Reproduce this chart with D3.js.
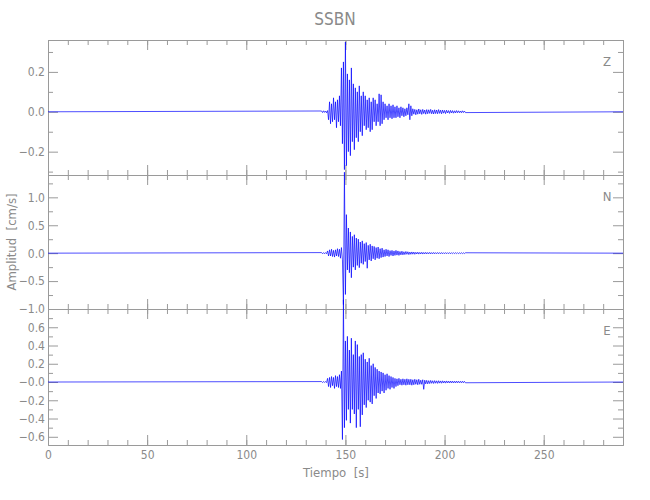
<!DOCTYPE html>
<html><head><meta charset="utf-8">
<script src="https://cdn.jsdelivr.net/npm/d3@7"></script>
<style>
body{margin:0;background:#fff}
text{font-family:"DejaVu Sans Condensed","DejaVu Sans",sans-serif;font-stretch:condensed;fill:#8a8a8a}
</style></head><body>
<svg id="chart" width="650" height="500"></svg>
<script>
// ---- data ----
const title = "SSBN";
const timeDomain = [0, 290];
const timeStart = 138, timeStep = 0.5;       // sampling grid of the arrays below (s)
const xMajorTicks = [0, 50, 100, 150, 200, 250];
const xMinorTicks = d3.range(0, 291, 10);

const componentNames = ["Z", "N", "E"];

const zValues = [
 0.004,-0.004, 0.005,-0.003, 0.004,-0.005, 0.006,-0.04, 0.05,-0.06, 0.04,-0.05, 0.07,-0.04, 0.05,-0.08,
 0.06,-0.05, 0.08,-0.07, 0.22,-0.16, 0.25,-0.29, 0.35,-0.27, 0.19,-0.2, 0.16,-0.22, 0.22,-0.15,
 0.14,-0.19, 0.12,-0.13, 0.1,-0.15, 0.13,-0.1, 0.08,-0.12, 0.1,-0.07, 0.08,-0.09, 0.06,-0.08,
 0.07,-0.1, 0.05,-0.09, 0.07,-0.05, 0.06,-0.07, 0.04,-0.05, 0.09,-0.07, 0.085,-0.06, 0.05,-0.04,
 0.04,-0.03, 0.03,-0.04, 0.04,-0.03, 0.03,-0.035, 0.035,-0.03, 0.025,-0.03, 0.03,-0.025, 0.02,-0.03,
 0.025,-0.02, 0.02,-0.025, 0.015,-0.02, 0.02,-0.015, 0.04,-0.04, 0.03,-0.02, 0.015,-0.012, 0.012,-0.015,
 0.01,-0.012, 0.014,-0.01, 0.01,-0.013, 0.012,-0.009, 0.009,-0.012, 0.011,-0.01, 0.01,-0.008, 0.012,-0.01,
 0.008,-0.011, 0.01,-0.009, 0.009,-0.01, 0.011,-0.008, 0.008,-0.01, 0.009,-0.007, 0.007,-0.009, 0.008,-0.006,
 0.006,-0.008, 0.007,-0.006, 0.006,-0.007, 0.005,-0.006, 0.006,-0.005, 0.005,-0.005, 0.004,-0.005, 0.005,-0.004,
 0.004,-0.004
];
const nValues = [
 0.01,-0.01, 0.01,-0.01, 0.01,-0.01, 0.04,-0.05, 0.06,-0.05, 0.07,-0.06, 0.05,-0.07, 0.06,-0.05,
 0.08,-0.06, 0.07,-0.09, 0.1,-0.12, -0.92,1.45, -0.74,0.69, -0.3,0.45, -0.35,0.38, -0.44,0.3,
 -0.25,0.33, -0.3,0.27, -0.22,0.25, -0.26,0.2, -0.18,0.22, -0.2,0.17, -0.15,0.19, -0.27,0.14,
 -0.12,0.16, -0.14,0.13, -0.1,0.12, -0.12,0.1, -0.09,0.11, -0.1,0.08, -0.08,0.09, -0.07,0.06,
 -0.06,0.07, -0.05,0.06, -0.06,0.045, -0.04,0.05, -0.05,0.04, -0.04,0.05, -0.035,0.04, -0.04,0.03,
 -0.03,0.035, -0.03,0.025, -0.025,0.03, -0.02,0.025, -0.025,0.02, -0.02,0.022, -0.018,0.02, -0.02,0.016,
 -0.015,0.018, -0.017,0.014, -0.014,0.016, -0.016,0.013, -0.013,0.015, -0.014,0.012, -0.012,0.014, -0.013,0.011,
 -0.011,0.013, -0.012,0.01, -0.01,0.012, -0.011,0.01, -0.01,0.011, -0.011,0.009, -0.009,0.01, -0.01,0.009,
 -0.009,0.01, -0.01,0.008, -0.008,0.009, -0.009,0.008, -0.008,0.009, -0.009,0.007, -0.007,0.008, -0.008,0.007,
 -0.007,0.007
];
const eValues = [
 0.005,-0.006, 0.006,-0.005, 0.005,-0.006, 0.04,-0.05, 0.05,-0.06, 0.06,-0.04, 0.05,-0.07, 0.07,-0.05,
 0.06,-0.06, 0.08,-0.07, 0.12,-0.63, 0.9,-0.5, 0.45,-0.42, 0.5,-0.3, 0.35,-0.45, 0.48,-0.3,
 0.3,-0.35, 0.45,-0.5, 0.41,-0.3, 0.28,-0.49, 0.3,-0.36, 0.32,-0.25, 0.25,-0.28, 0.22,-0.2,
 0.26,-0.22, 0.18,-0.24, 0.2,-0.15, 0.16,-0.18, 0.14,-0.12, 0.12,-0.13, 0.11,-0.1, 0.1,-0.12,
 0.08,-0.09, 0.09,-0.07, 0.07,-0.08, 0.06,-0.06, 0.05,-0.07, 0.04,-0.05, 0.035,-0.04, 0.04,-0.03,
 0.03,-0.035, 0.035,-0.03, 0.03,-0.035, 0.035,-0.03, 0.03,-0.03, 0.03,-0.035, 0.025,-0.03, 0.03,-0.025,
 0.025,-0.03, 0.03,-0.025, 0.02,-0.025, 0.025,-0.08, 0.02,-0.02, 0.018,-0.02, 0.015,-0.017, 0.017,-0.014,
 0.014,-0.016, 0.015,-0.013, 0.013,-0.015, 0.014,-0.012, 0.012,-0.013, 0.013,-0.011, 0.011,-0.012, 0.012,-0.01,
 0.01,-0.011, 0.011,-0.01, 0.01,-0.01, 0.009,-0.01, 0.01,-0.009, 0.009,-0.009, 0.008,-0.009, 0.009,-0.008,
 0.008,-0.008
];
const seriesValues = [zValues, nValues, eValues];

const yDomains = [[-0.317, 0.36], [-1.0, 1.40], [-0.69, 0.80]];
const yMajorTicks = [[-0.2, 0, 0.2], [-1.0, -0.5, 0, 0.5, 1.0], [-0.6, -0.4, -0.2, 0, 0.2, 0.4, 0.6]];
const yMajorLabels = [["\u22120.2", "0.0", "0.2"],
                      ["\u22121.0", "\u22120.5", "0.0", "0.5", "1.0"],
                      ["\u22120.6", "\u22120.4", "\u22120.2", "\u22120.0", "0.2", "0.4", "0.6"]];
const yMinorTicks = [[-0.3, -0.1, 0.1, 0.3], [-0.75, -0.25, 0.25, 0.75, 1.25], [-0.5, -0.3, -0.1, 0.1, 0.3, 0.5, 0.7]];
const xLabel = "Tiempo  [s]";
const yLabel = "Amplitud  [cm/s]";

// ---- layout ----
const left = 48, right = 623;
const panelBounds = [[40, 175], [175, 309], [309, 445]];
const axisColor = "#9a9a9a";
const textColor = "#8a8a8a";
const traceColor = "#0000ff";

const svg = d3.select("#chart");
const x = d3.scaleLinear().domain(timeDomain).range([left, right]);

svg.append("text").attr("x", 335).attr("y", 25).attr("text-anchor", "middle")
  .style("font-size", "17px").text(title);

function styleAxis(g) {
  g.selectAll("path.domain").attr("stroke", axisColor);
  g.selectAll(".tick line").attr("stroke", axisColor);
  g.selectAll(".tick text").style("font-size", "12px").attr("fill", textColor)
    .style("font-family", "'DejaVu Sans Condensed','DejaVu Sans',sans-serif");
}

panelBounds.forEach(([top, bottom], i) => {
  const y = d3.scaleLinear().domain(yDomains[i]).range([bottom, top]);
  const g = svg.append("g");
  const isLast = i === panelBounds.length - 1;

  // x axes (top & bottom), ticks pointing inward
  g.append("g").attr("transform", `translate(0,${top})`)
    .call(d3.axisTop(x).tickValues(xMinorTicks).tickSize(-5).tickSizeOuter(0).tickFormat(""))
    .call(styleAxis);
  g.append("g").attr("transform", `translate(0,${top})`)
    .call(d3.axisTop(x).tickValues(xMajorTicks).tickSize(-10).tickSizeOuter(0).tickFormat(""))
    .call(styleAxis);
  g.append("g").attr("transform", `translate(0,${bottom})`)
    .call(d3.axisBottom(x).tickValues(xMinorTicks).tickSize(-5).tickSizeOuter(0).tickFormat(""))
    .call(styleAxis);
  g.append("g").attr("transform", `translate(0,${bottom})`)
    .call(d3.axisBottom(x).tickValues(xMajorTicks).tickSize(-10).tickSizeOuter(0).tickPadding(5)
      .tickFormat(isLast ? d3.format("d") : ""))
    .call(styleAxis);

  // y axes (left & right)
  g.append("g").attr("transform", `translate(${left},0)`)
    .call(d3.axisLeft(y).tickValues(yMinorTicks[i]).tickSize(-5).tickSizeOuter(0).tickFormat(""))
    .call(styleAxis);
  g.append("g").attr("transform", `translate(${left},0)`)
    .call(d3.axisLeft(y).tickValues(yMajorTicks[i]).tickSize(-10).tickSizeOuter(0).tickPadding(3)
      .tickFormat((d, k) => yMajorLabels[i][k]))
    .call(styleAxis);
  g.append("g").attr("transform", `translate(${right},0)`)
    .call(d3.axisRight(y).tickValues(yMinorTicks[i]).tickSize(-5).tickSizeOuter(0).tickFormat(""))
    .call(styleAxis);
  g.append("g").attr("transform", `translate(${right},0)`)
    .call(d3.axisRight(y).tickValues(yMajorTicks[i]).tickSize(-10).tickSizeOuter(0).tickFormat(""))
    .call(styleAxis);

  // trace
  const vals = seriesValues[i];
  const pts = [[timeDomain[0], 0]]
    .concat(vals.map((v, k) => [timeStart + k * timeStep, v]))
    .concat([[timeDomain[1], 0]]);
  const line = d3.line().x(d => x(d[0])).y(d => y(d[1]));
  g.append("path").datum(pts).attr("d", line)
    .attr("fill", "none").attr("stroke", traceColor).attr("stroke-width", 0.7)
    .attr("stroke-linejoin", "round");

  // component label
  g.append("text").attr("x", 607).attr("y", top + 26).attr("text-anchor", "middle")
    .style("font-size", "13px").text(componentNames[i]);
});

svg.append("text").attr("x", 336).attr("y", 477).attr("text-anchor", "middle")
  .style("font-size", "13px").style("white-space", "pre").text(xLabel);
svg.append("text").attr("transform", "translate(16,242) rotate(-90)").attr("text-anchor", "middle")
  .style("font-size", "13px").style("white-space", "pre").text(yLabel);
</script></body></html>
